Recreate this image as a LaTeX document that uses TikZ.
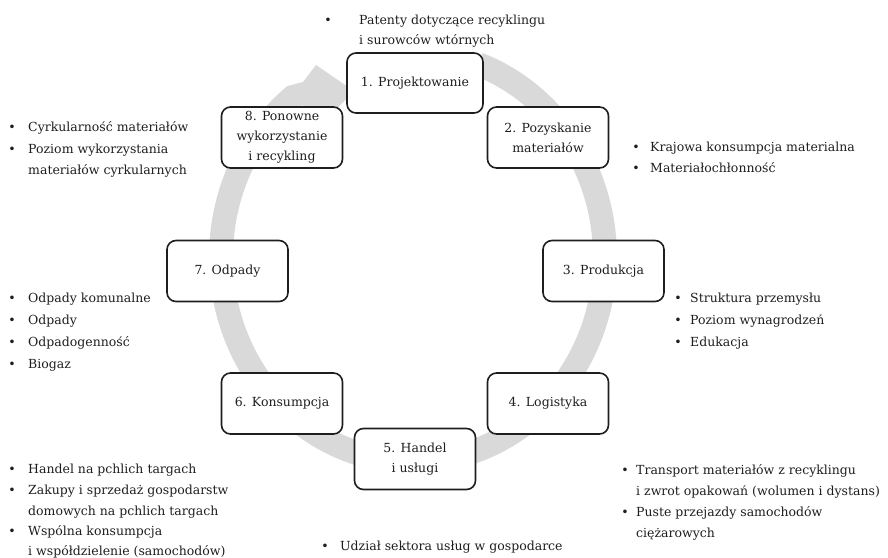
\documentclass[tikz,border=0pt]{standalone}
\usepackage{fontspec}
\setmainfont{DejaVu Serif}
\definecolor{ringgrey}{HTML}{D9D9D9}
\definecolor{ink}{HTML}{1E1E1E}
\begin{document}
\begin{tikzpicture}[x=1pt,y=-1pt,
  stage/.style={draw=ink, line width=1.6pt, rounded corners=9pt, fill=white,
    minimum width=121pt, minimum height=61pt, align=center, inner sep=2pt,
    text=ink, font=\fontsize{12.5}{20}\selectfont},
  item/.style={anchor=base west, inner sep=0pt, text=ink, font=\fontsize{12.5}{20}\selectfont},
  dot/.style={anchor=base, inner sep=0pt, text=ink, font=\fontsize{12.5}{20}\selectfont}]
\useasboundingbox (0,0) rectangle (888,557);

% grey cycle arrow: elliptic band, head pointing at stage 1
\fill[ringgrey]
  plot[domain=70:-232, samples=160] ({413+204*cos(\x)},{257-217*sin(\x)})
  -- (303,82) -- (316,65) -- (354,91) -- (324,122)
  -- plot[domain=-232:70, samples=160] ({413+180*cos(\x)},{257-193*sin(\x)})
  -- cycle;

% stages
\node[stage, minimum width=136pt, minimum height=60pt] (s1) at (415,83) {1. Projektowanie};
\node[stage] (s2) at (548,137.5) {2. Pozyskanie\\materiałów};
\node[stage] (s3) at (603.5,271) {3. Produkcja};
\node[stage] (s4) at (548,403.5) {4. Logistyka};
\node[stage] (s5) at (415,459) {5. Handel\\i usługi};
\node[stage] (s6) at (282,403.5) {6. Konsumpcja};
\node[stage] (s7) at (227.5,271) {7. Odpady};
\node[stage] (s8) at (282,137.5) {8. Ponowne\\wykorzystanie\\i recykling};

% indicators of stage 1
\node[dot] (b1a) at (328,24) {•};
\node[item] (t1a) at (359,24) {Patenty dotyczące recyklingu};
\node[item] (t1b) at (359,44) {i surowców wtórnych};

% indicators of stage 2
\node[dot] (b2a) at (636,151) {•};
\node[item] (t2a) at (650,151) {Krajowa konsumpcja materialna};
\node[dot] (b2b) at (636,172) {•};
\node[item] (t2b) at (650,172) {Materiałochłonność};

% indicators of stage 3
\node[dot] (b3a) at (678,302) {•};
\node[item] (t3a) at (690,302) {Struktura przemysłu};
\node[dot] (b3b) at (678,324) {•};
\node[item] (t3b) at (690,324) {Poziom wynagrodzeń};
\node[dot] (b3c) at (678,346) {•};
\node[item] (t3c) at (690,346) {Edukacja};

% indicators of stage 4
\node[dot] (b4a) at (625,474) {•};
\node[item] (t4a) at (636,474) {Transport materiałów z recyklingu};
\node[item] (t4b) at (636,495) {i zwrot opakowań (wolumen i dystans)};
\node[dot] (b4c) at (625,516) {•};
\node[item] (t4c) at (636,516) {Puste przejazdy samochodów};
\node[item] (t4d) at (636,537) {ciężarowych};

% indicators of stage 5
\node[dot] (b5a) at (325,550) {•};
\node[item] (t5a) at (340,550) {Udział sektora usług w gospodarce};

% indicators of stage 6
\node[dot] (b6a) at (12,473) {•};
\node[item] (t6a) at (28,473) {Handel na pchlich targach};
\node[dot] (b6b) at (12,494) {•};
\node[item] (t6b) at (28,494) {Zakupy i sprzedaż gospodarstw};
\node[item] (t6c) at (28,515) {domowych na pchlich targach};
\node[dot] (b6d) at (12,535) {•};
\node[item] (t6d) at (28,535) {Wspólna konsumpcja};
\node[item] (t6e) at (28,555) {i współdzielenie (samochodów)};

% indicators of stage 7
\node[dot] (b7a) at (12,302) {•};
\node[item] (t7a) at (28,302) {Odpady komunalne};
\node[dot] (b7b) at (12,324) {•};
\node[item] (t7b) at (28,324) {Odpady};
\node[dot] (b7c) at (12,346) {•};
\node[item] (t7c) at (28,346) {Odpadogenność};
\node[dot] (b7d) at (12,368) {•};
\node[item] (t7d) at (28,368) {Biogaz};

% indicators of stage 8
\node[dot] (b8a) at (12,131) {•};
\node[item] (t8a) at (28,131) {Cyrkularność materiałów};
\node[dot] (b8b) at (12,153) {•};
\node[item] (t8b) at (28,153) {Poziom wykorzystania};
\node[item] (t8c) at (28,174) {materiałów cyrkularnych};
\end{tikzpicture}
\end{document}
